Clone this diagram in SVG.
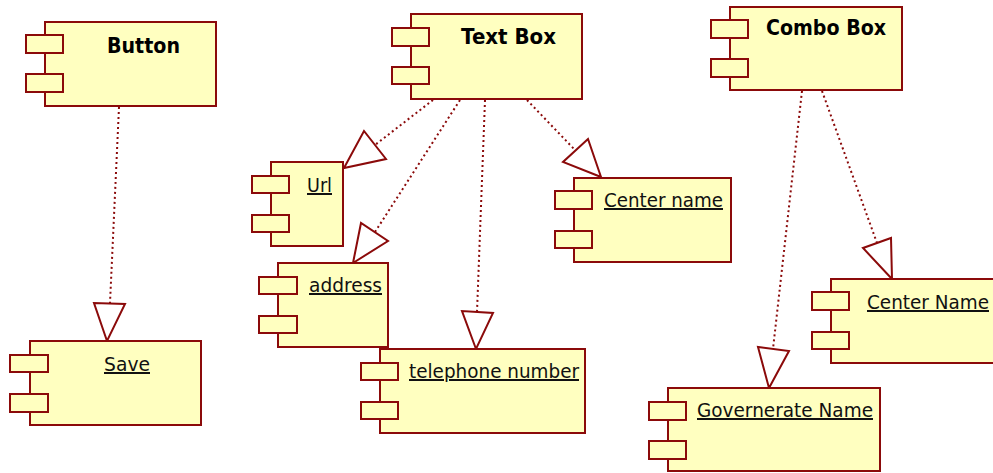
<svg xmlns="http://www.w3.org/2000/svg" width="993" height="473" viewBox="0 0 993 473">
<style>
.body{fill:#ffffc0;stroke:#8b0a0a;stroke-width:2}
.tab{fill:#ffffc0;stroke:#8b0a0a;stroke-width:2}
.title{font-family:"DejaVu Sans",Verdana,sans-serif;font-weight:bold;font-size:21px;fill:#000;text-anchor:start}
.lbl{font-family:"DejaVu Sans",Verdana,sans-serif;font-size:20px;fill:#111;text-decoration:underline}
.dep{stroke:#8b0a0a;stroke-width:2;stroke-dasharray:2 3;fill:none}
.head{fill:#fff;stroke:#8b0a0a;stroke-width:2;stroke-linejoin:miter}
</style>
<rect width="993" height="473" fill="#fff"/>
<g id="connectors">
<line class="dep" x1="119" y1="107" x2="110" y2="303"/>
<polygon class="head" points="107,341 94,303 125,304"/>
<line class="dep" x1="433" y1="100" x2="375" y2="145"/>
<polygon class="head" points="344,168 364,131 386,159"/>
<line class="dep" x1="460" y1="100" x2="375" y2="232"/>
<polygon class="head" points="353,263 361,223 388,241"/>
<line class="dep" x1="485" y1="100" x2="477" y2="312"/>
<polygon class="head" points="476,349 462,311 493,313"/>
<line class="dep" x1="527" y1="100" x2="575" y2="150"/>
<polygon class="head" points="601,177 563,162 588,139"/>
<line class="dep" x1="802" y1="91" x2="773" y2="349"/>
<polygon class="head" points="769,388 758,347 789,351"/>
<line class="dep" x1="822" y1="91" x2="877" y2="243"/>
<polygon class="head" points="892,279 863,248 891,238"/>
</g>
<g id="button">
<rect class="body" x="45" y="22" width="171" height="84"/>
<rect class="tab" x="26" y="35" width="37" height="18"/>
<rect class="tab" x="26" y="74" width="37" height="18"/>
<text class="title" x="107" y="53" textLength="73" lengthAdjust="spacingAndGlyphs">Button</text>
</g>
<g id="textbox">
<rect class="body" x="411" y="14" width="171" height="85"/>
<rect class="tab" x="392" y="28" width="37" height="18"/>
<rect class="tab" x="392" y="67" width="37" height="17"/>
<text class="title" x="461" y="44" textLength="95" lengthAdjust="spacingAndGlyphs">Text Box</text>
</g>
<g id="combobox">
<rect class="body" x="730" y="7" width="172" height="83"/>
<rect class="tab" x="711" y="20" width="37" height="18"/>
<rect class="tab" x="711" y="59" width="37" height="18"/>
<text class="title" x="766" y="35" textLength="120" lengthAdjust="spacingAndGlyphs">Combo Box</text>
</g>
<g id="save">
<rect class="body" x="30" y="341" width="171" height="84"/>
<rect class="tab" x="10" y="355" width="38" height="17"/>
<rect class="tab" x="10" y="394" width="38" height="18"/>
<text class="lbl" x="104" y="371" textLength="46" lengthAdjust="spacingAndGlyphs">Save</text>
</g>
<g id="url">
<rect class="body" x="271" y="162" width="72" height="84"/>
<rect class="tab" x="252" y="176" width="37" height="17"/>
<rect class="tab" x="252" y="215" width="37" height="17"/>
<text class="lbl" x="307" y="192" textLength="25" lengthAdjust="spacingAndGlyphs">Url</text>
</g>
<g id="address">
<rect class="body" x="278" y="263" width="110" height="84"/>
<rect class="tab" x="259" y="277" width="38" height="17"/>
<rect class="tab" x="259" y="316" width="38" height="17"/>
<text class="lbl" x="309" y="292" textLength="73" lengthAdjust="spacingAndGlyphs">address</text>
</g>
<g id="telephone">
<rect class="body" x="380" y="349" width="205" height="84"/>
<rect class="tab" x="361" y="363" width="37" height="17"/>
<rect class="tab" x="361" y="402" width="37" height="17"/>
<text class="lbl" x="409" y="378" textLength="170" lengthAdjust="spacingAndGlyphs">telephone number</text>
</g>
<g id="centername">
<rect class="body" x="574" y="178" width="157" height="84"/>
<rect class="tab" x="555" y="191" width="37" height="18"/>
<rect class="tab" x="555" y="231" width="37" height="17"/>
<text class="lbl" x="604" y="207" textLength="119" lengthAdjust="spacingAndGlyphs">Center name</text>
</g>
<g id="centerName2">
<rect class="body" x="831" y="279" width="170" height="84"/>
<rect class="tab" x="812" y="292" width="37" height="18"/>
<rect class="tab" x="812" y="332" width="37" height="17"/>
<text class="lbl" x="867" y="309" textLength="122" lengthAdjust="spacingAndGlyphs">Center Name</text>
</g>
<g id="governerate">
<rect class="body" x="668" y="388" width="212" height="83"/>
<rect class="tab" x="649" y="402" width="37" height="18"/>
<rect class="tab" x="649" y="441" width="37" height="18"/>
<text class="lbl" x="697" y="417" textLength="176" lengthAdjust="spacingAndGlyphs">Governerate Name</text>
</g>
</svg>
